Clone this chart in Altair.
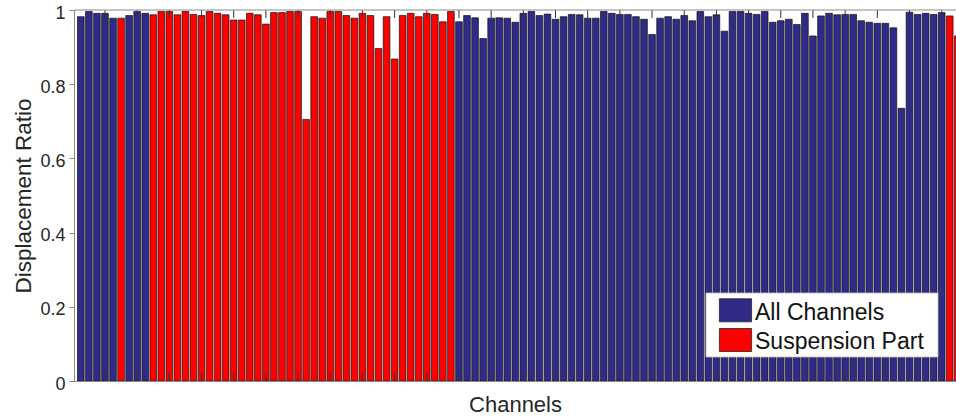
import altair as alt
import pandas as pd

# Displacement ratio per channel, channels 1..110
ratios = [
    0.982, 0.996, 0.991, 0.991, 0.978, 0.978, 0.985, 0.996, 0.991, 0.987,
    0.996, 0.996, 0.987, 0.996, 0.988, 0.985, 0.996, 0.991, 0.987, 0.973,
    0.973, 0.991, 0.987, 0.962, 0.993, 0.993, 0.996, 0.996, 0.705, 0.982,
    0.978, 0.996, 0.996, 0.985, 0.978, 0.991, 0.985, 0.896, 0.982, 0.868,
    0.985, 0.991, 0.982, 0.991, 0.988, 0.968, 0.996, 0.968, 0.985, 0.979,
    0.923, 0.978, 0.979, 0.978, 0.967, 0.991, 0.996, 0.985, 0.989, 0.975,
    0.982, 0.988, 0.987, 0.978, 0.978, 0.996, 0.991, 0.988, 0.988, 0.982,
    0.975, 0.934, 0.978, 0.982, 0.975, 0.985, 0.971, 0.996, 0.982, 0.987,
    0.943, 0.996, 0.996, 0.991, 0.988, 0.996, 0.967, 0.971, 0.975, 0.961,
    0.991, 0.930, 0.984, 0.991, 0.987, 0.988, 0.988, 0.971, 0.967, 0.964,
    0.964, 0.952, 0.735, 0.994, 0.988, 0.991, 0.988, 0.993, 0.984, 0.930,
]
suspension_channels = [6] + list(range(10, 48)) + [109, 110]
legend_labels = ["All Channels", "Suspension Part"]
bar_colors = ["#302b87", "#ff0000"]
y_ticks = [0, 0.2, 0.4, 0.6, 0.8, 1]
x_ticks = list(range(4, 110, 4))

FONT = "Liberation Sans"
TXT = "#262626"
AX = "#8a8a8a"

df = pd.DataFrame({
    "channel": list(range(1, len(ratios) + 1)),
    "ratio": ratios,
})
df["group"] = [legend_labels[1] if c in suspension_channels else legend_labels[0]
               for c in df["channel"]]
tick_df = pd.DataFrame({"tick": x_ticks})
one_row = pd.DataFrame({"k": [0]})
leg_df = pd.DataFrame({"label": legend_labels})

xscale = alt.Scale(domain=[0.149, 109.78], nice=False, zero=False)
yscale = alt.Scale(domain=[0, 1], nice=False)
cscale = alt.Scale(domain=legend_labels, range=bar_colors)

bars = alt.Chart(df).transform_calculate(
    x0="datum.channel - 0.415", x1="datum.channel + 0.415"
).mark_bar(stroke="#111111", strokeWidth=0.7, clip=True).encode(
    x=alt.X("x0:Q", scale=xscale,
            axis=alt.Axis(title="Channels", labels=False, ticks=False, grid=False,
                          domainColor=AX, titleFontSize=22, titleFont=FONT,
                          titleColor=TXT, titleFontWeight="normal",
                          titleBaseline="alphabetic", titleY=30.5)),
    x2="x1:Q",
    y=alt.Y("ratio:Q", scale=yscale, stack=None,
            axis=alt.Axis(values=y_ticks, format="~g", title="Displacement Ratio",
                          grid=False, tickSize=5, tickColor=AX, domainColor=AX,
                          labelFontSize=18, labelFont=FONT, labelColor=TXT,
                          labelPadding=4, labelOffset=3,
                          titleFontSize=22.5, titleFont=FONT, titleColor=TXT,
                          titleFontWeight="normal", titleX=-43.5, titleY=185.5,
                          titleBaseline="alphabetic", titleAlign="center")),
    y2=alt.datum(0),
    color=alt.Color("group:N", scale=cscale, legend=None),
)

top_ticks = alt.Chart(tick_df).mark_rule(color="#333333", strokeWidth=1).encode(
    x=alt.X("tick:Q", scale=xscale), y=alt.value(0), y2=alt.value(8))
bottom_ticks = alt.Chart(tick_df).mark_rule(color="#333333", strokeWidth=1).encode(
    x=alt.X("tick:Q", scale=xscale), y=alt.value(363), y2=alt.value(371))
top_line = alt.Chart(one_row).mark_rule(color=AX, strokeWidth=1).encode(
    x=alt.value(0), x2=alt.value(882), y=alt.value(0))

legend_box = alt.Chart(one_row).mark_rect(fill="white", stroke="#bdbdbd", strokeWidth=0.8).encode(
    x=alt.value(632), x2=alt.value(864), y=alt.value(283), y2=alt.value(347))
leg_y = alt.Y("label:N", scale=alt.Scale(domain=legend_labels, range=[300.3, 330], padding=0),
              axis=None)
swatch = alt.Chart(leg_df).mark_point(
    shape="M-1.4,-1L1.4,-1L1.4,1L-1.4,1Z", size=529, filled=True, opacity=1,
    stroke="#222222", strokeWidth=0.8
).encode(x=alt.value(661.5), y=leg_y,
         fill=alt.Fill("label:N", scale=cscale, legend=None))
leg_text = alt.Chart(leg_df).mark_text(
    align="left", baseline="middle", dy=2.4, fontSize=23, font=FONT, color="#111111"
).encode(x=alt.value(681), y=leg_y, text="label:N")

chart = alt.layer(
    bars, top_ticks, bottom_ticks, top_line, legend_box, swatch, leg_text
).resolve_scale(y="independent").properties(
    width=882, height=371,
    autosize=alt.AutoSizeParams(type="none"),
    padding={"left": 74, "top": 10, "right": 0, "bottom": 38},
).configure_view(stroke=None)

chart.save("out.html", embed_options={"renderer": "svg", "actions": False})
